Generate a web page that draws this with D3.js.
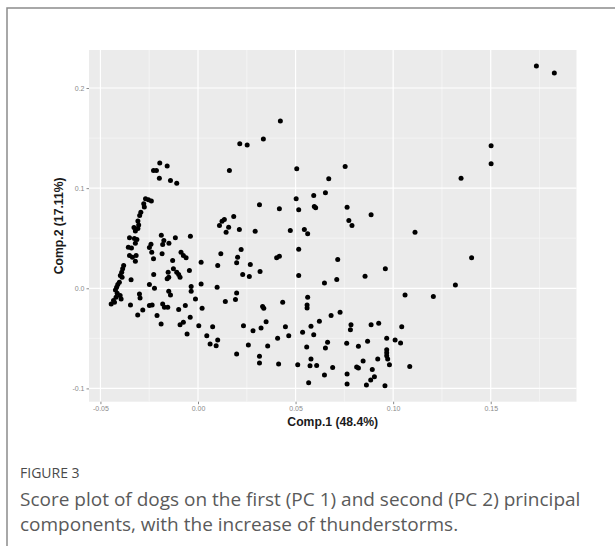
<!DOCTYPE html>
<html><head><meta charset="utf-8">
<script src="https://cdn.jsdelivr.net/npm/d3@7"></script>
<style>
html,body{margin:0;padding:0;background:#fff;}
svg{display:block;}
</style></head><body>
<svg id="c" width="615" height="546"></svg>
<script>
// PC1 / PC2 scores of each dog
const dogScores = [
[0.0422,0.1670],[0.0335,0.1490],[0.0214,0.1444],[0.0252,0.1430],[0.1734,0.2220],[0.1826,0.2150],[0.1502,0.1424],[0.1502,0.1244],
[-0.0196,0.1252],[-0.0158,0.1222],[-0.0228,0.1177],[-0.0213,0.1177],[-0.0198,0.1100],[-0.0141,0.1077],[-0.0109,0.1050],
[-0.0269,0.0894],[-0.0254,0.0884],[-0.0239,0.0872],[-0.0278,0.0844],[-0.0275,0.0812],[-0.0293,0.0760],[-0.0299,0.0727],[-0.0308,0.0672],[-0.0304,0.0632],[-0.0328,0.0607],[-0.0308,0.0597],[-0.0321,0.0572],[-0.0351,0.0504],[-0.0326,0.0497],[-0.0313,0.0487],[-0.0321,0.0450],[-0.0357,0.0410],[-0.0341,0.0402],
[-0.0188,0.0530],[-0.0175,0.0477],[-0.0181,0.0437],[-0.0149,0.0450],[-0.0116,0.0504],[-0.0039,0.0519],[-0.0241,0.0439],[-0.0249,0.0407],
[-0.0351,0.0327],[-0.0336,0.0310],[-0.0317,0.0327],[-0.0321,0.0270],[-0.0237,0.0360],[-0.0228,0.0294],[-0.0184,0.0344],[-0.0087,0.0360],[-0.0075,0.0327],[-0.0061,0.0304],[-0.0130,0.0277],[0.0016,0.0260],[0.0101,0.0227],
[-0.0381,0.0227],[-0.0386,0.0194],[-0.0391,0.0160],[-0.0398,0.0127],[-0.0389,0.0110],[-0.0403,0.0060],[-0.0411,0.0037],[-0.0417,0.0010],[-0.0423,-0.0016],[-0.0414,-0.0050],[-0.0420,-0.0090],[-0.0399,-0.0073],[-0.0394,-0.0106],[-0.0433,-0.0123],[-0.0445,-0.0156],[-0.0428,-0.0140],
[-0.0343,0.0084],[-0.0227,0.0137],[-0.0153,0.0160],[-0.0150,0.0110],[-0.0158,0.0094],[-0.0126,0.0194],[-0.0109,0.0160],[-0.0099,0.0137],[-0.0092,0.0110],[-0.0044,0.0177],
[-0.0249,0.0037],[-0.0223,0.0000],[-0.0150,-0.0030],[-0.0141,-0.0066],[-0.0035,0.0017],[-0.0035,-0.0030],[0.0016,0.0044],[-0.0013,-0.0106],[0.0098,0.0010],
[-0.0300,-0.0056],[-0.0297,-0.0096],[-0.0346,-0.0166],[-0.0249,-0.0173],[-0.0235,-0.0166],[-0.0181,-0.0156],[-0.0172,-0.0190],[-0.0155,-0.0190],[-0.0283,-0.0216],[-0.0309,-0.0266],[-0.0210,-0.0273],[-0.0099,-0.0213],[-0.0065,-0.0173],[0.0021,-0.0200],
[-0.0189,-0.0356],[-0.0092,-0.0363],[-0.0075,-0.0340],[-0.0040,-0.0290],[0.0004,-0.0373],[0.0075,-0.0383],[-0.0056,-0.0456],[0.0045,-0.0473],[0.0101,-0.0516],[0.0062,-0.0556],[0.0093,-0.0573],
[0.0161,0.1177],[0.0506,0.1194],[0.0754,0.1217],[0.0670,0.1094],[0.0653,0.0954],[0.0593,0.0927],[0.0503,0.0894],[0.0315,0.0834],[0.0417,0.0794],[0.0516,0.0784],[0.0596,0.0817],[0.0603,0.0804],[0.0764,0.0810],[0.0773,0.0677],
[0.0183,0.0717],[0.0135,0.0687],[0.0123,0.0670],[0.0110,0.0627],[0.0157,0.0610],[0.0144,0.0560],[0.0212,0.0587],[0.0293,0.0570],[0.0473,0.0577],[0.0545,0.0587],[0.0562,0.0544],[0.0221,0.0387],[0.0516,0.0390],
[0.0117,0.0344],[0.0203,0.0310],[0.0198,0.0254],[0.0403,0.0304],[0.0417,0.0320],[0.0268,0.0237],[0.0229,0.0137],[0.0263,0.0117],[0.0318,0.0167],[0.0516,0.0127],[0.0716,0.0287],[0.0648,0.0054],[0.0711,0.0087],
[0.0198,-0.0046],[0.0192,-0.0113],[0.0140,-0.0133],[0.0331,-0.0183],[0.0337,-0.0200],[0.0434,-0.0140],[0.0562,-0.0090],[0.0559,-0.0166],[0.0559,-0.0196],[0.0682,-0.0273],[0.0728,-0.0240],
[0.0233,-0.0373],[0.0282,-0.0423],[0.0323,-0.0396],[0.0349,-0.0333],[0.0448,-0.0383],[0.0465,-0.0473],[0.0536,-0.0440],[0.0579,-0.0380],[0.0622,-0.0330],[0.0593,-0.0463],
[0.0258,-0.0566],[0.0357,-0.0576],[0.0408,-0.0500],[0.0557,-0.0586],[0.0664,-0.0540],[0.0653,-0.0596],[0.0762,-0.0550],
[0.0198,-0.0656],[0.0315,-0.0680],[0.0315,-0.0746],[0.0413,-0.0756],[0.0511,-0.0763],[0.0579,-0.0706],[0.0574,-0.0773],[0.0608,-0.0770],[0.0690,-0.0790],[0.0648,-0.0866],[0.0764,-0.0856],[0.0567,-0.0943],[0.0764,-0.0956],
[0.1348,0.1100],[0.0887,0.0734],[0.0789,0.0627],[0.1112,0.0560],
[0.1402,0.0304],[0.0960,0.0194],[0.0856,0.0120],[0.1319,0.0034],[0.1061,-0.0066],[0.1206,-0.0083],
[0.0784,-0.0363],[0.0781,-0.0413],[0.0887,-0.0363],[0.0926,-0.0350],[0.1044,-0.0383],[0.0869,-0.0530],[0.0967,-0.0500],[0.1010,-0.0516],[0.1038,-0.0546],[0.0822,-0.0580],
[0.0967,-0.0613],[0.0967,-0.0643],[0.0967,-0.0673],[0.0972,-0.0706],[0.0981,-0.0763],[0.0921,-0.0706],[0.0846,-0.0726],[0.0813,-0.0786],[0.0822,-0.0796],[0.0893,-0.0810],
[0.0904,-0.0883],[0.0885,-0.0916],[0.0863,-0.0966],[0.0958,-0.0973],[0.1085,-0.0780]
];

const xTicks = [-0.05, 0, 0.05, 0.10, 0.15];
const xTickLabels = ["-0.05", "0.00", "0.05", "0.10", "0.15"];
const xMinorTicks = [-0.025, 0.025, 0.075, 0.125, 0.175];
const yTicks = [-0.1, 0, 0.1, 0.2];
const yTickLabels = ["-0.1", "0.0", "0.1", "0.2"];
const yMinorTicks = [-0.05, 0.05, 0.15];
const xTitle = "Comp.1 (48.4%)";
const yTitle = "Comp.2 (17.11%)";
const figureLabel = "FIGURE 3";
const captionLines = [
  "Score plot of dogs on the first (PC 1) and second (PC 2) principal",
  "components, with the increase of thunderstorms."
];

const svg = d3.select("#c");

// figure frame
svg.append("rect").attr("x", 7).attr("y", 8).attr("width", 700).attr("height", 700)
  .attr("fill", "#fff").attr("stroke", "#8c8c8c").attr("stroke-width", 1.5);

const panel = {left: 89, right: 576.5, top: 50, bottom: 401.7};
const xExt = d3.extent(dogScores, d => d[0]);
const yExt = d3.extent(dogScores, d => d[1]);
const xPad = (xExt[1] - xExt[0]) * 0.05, yPad = (yExt[1] - yExt[0]) * 0.05;
const x = d3.scaleLinear().domain([xExt[0] - xPad, xExt[1] + xPad]).range([panel.left, panel.right]);
const y = d3.scaleLinear().domain([yExt[0] - yPad, yExt[1] + yPad]).range([panel.bottom, panel.top]);

svg.append("rect").attr("x", panel.left).attr("y", panel.top)
  .attr("width", panel.right - panel.left).attr("height", panel.bottom - panel.top)
  .attr("fill", "#ebebeb");

const grid = svg.append("g");
grid.selectAll(".xm").data(xMinorTicks.filter(v => v >= x.domain()[0] && v <= x.domain()[1])).join("line")
  .attr("x1", d => x(d)).attr("x2", d => x(d)).attr("y1", panel.top).attr("y2", panel.bottom)
  .attr("stroke", "#f6f6f6").attr("stroke-width", 0.7);
grid.selectAll(".ym").data(yMinorTicks).join("line")
  .attr("y1", d => y(d)).attr("y2", d => y(d)).attr("x1", panel.left).attr("x2", panel.right)
  .attr("stroke", "#f6f6f6").attr("stroke-width", 0.7);
grid.selectAll(".xM").data(xTicks).join("line")
  .attr("x1", d => x(d)).attr("x2", d => x(d)).attr("y1", panel.top).attr("y2", panel.bottom)
  .attr("stroke", "#ffffff").attr("stroke-width", 1.2);
grid.selectAll(".yM").data(yTicks).join("line")
  .attr("y1", d => y(d)).attr("y2", d => y(d)).attr("x1", panel.left).attr("x2", panel.right)
  .attr("stroke", "#ffffff").attr("stroke-width", 1.2);

svg.append("g").selectAll("circle").data(dogScores).join("circle")
  .attr("cx", d => x(d[0])).attr("cy", d => y(d[1])).attr("r", 2.5)
  .attr("fill", "#000");

const xAxis = svg.append("g").attr("transform", `translate(0,${panel.bottom})`)
  .call(d3.axisBottom(x).tickValues(xTicks).tickFormat((d, i) => xTickLabels[i]).tickSize(2.5).tickPadding(2));
const yAxis = svg.append("g").attr("transform", `translate(${panel.left},0)`)
  .call(d3.axisLeft(y).tickValues(yTicks).tickFormat((d, i) => yTickLabels[i]).tickSize(2.5).tickPadding(2));
[xAxis, yAxis].forEach(a => {
  a.select(".domain").remove();
  a.selectAll(".tick line").attr("stroke", "#8a8a8a");
  a.selectAll(".tick text").attr("fill", "#8a8a8a")
    .style("font-family", "'Liberation Sans', Arial, sans-serif").style("font-size", "7px");
});

svg.append("text").attr("x", (panel.left + panel.right) / 2).attr("y", 426)
  .attr("text-anchor", "middle").attr("fill", "#1a1a1a")
  .style("font-family", "'Liberation Sans', Arial, sans-serif").style("font-size", "12.2px").style("font-weight", "bold")
  .text(xTitle);
svg.append("text").attr("transform", `translate(63,${(panel.top + panel.bottom) / 2}) rotate(-90)`)
  .attr("text-anchor", "middle").attr("fill", "#1a1a1a")
  .style("font-family", "'Liberation Sans', Arial, sans-serif").style("font-size", "12.2px").style("font-weight", "bold")
  .text(yTitle);

svg.append("text").attr("x", 20).attr("y", 478).attr("fill", "#4a4a4a")
  .style("font-family", "'Open Sans', sans-serif").style("font-size", "14px")
  .text(figureLabel);
svg.selectAll(".cap").data(captionLines).join("text")
  .attr("x", 20).attr("y", (d, i) => 506 + i * 25).attr("fill", "#5a5a5a")
  .style("font-family", "'Open Sans', sans-serif").style("font-size", "19px")
  .text(d => d);
</script>
</body></html>
